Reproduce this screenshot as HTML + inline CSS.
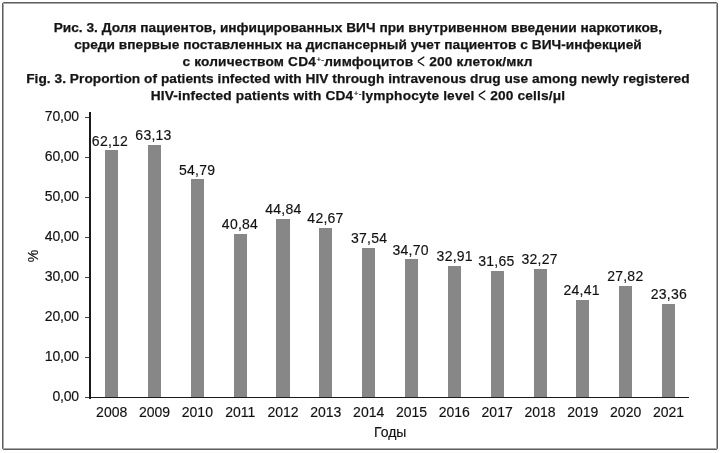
<!DOCTYPE html>
<html><head><meta charset="utf-8"><style>
*{margin:0;padding:0;box-sizing:border-box}
html,body{width:720px;height:453px;background:#fff;overflow:hidden}
body{position:relative;font-family:"Liberation Sans",sans-serif;color:#1a1a1a}
#w{position:absolute;left:0;top:0;width:720px;height:453px;will-change:transform}
.frame{position:absolute;left:2px;top:2px;width:716px;height:448px;border:1px solid #5e5e5e;box-shadow:inset 0 0 0 1px #a8a8a8;border-radius:2px}
.t{position:absolute;left:0;width:720px;text-align:center;font-weight:bold;font-size:13.7px;line-height:13.7px;white-space:nowrap;color:#141414;-webkit-text-stroke:0.25px #141414}
.t sup{font-size:8px;font-weight:normal;line-height:0;vertical-align:baseline;position:relative;top:-4.2px;letter-spacing:0.2px;margin:0 0 0 0.4px;-webkit-text-stroke:0.2px #141414}
.t .lt{font-weight:normal;font-size:20px;line-height:0;display:inline-block;vertical-align:baseline;position:relative;top:2.2px;transform:scaleX(0.68);margin:0 -2px;-webkit-text-stroke:0}
.l{position:absolute;width:80px;text-align:center;letter-spacing:0.25px;font-size:14px;line-height:14px;white-space:nowrap;color:#111;-webkit-text-stroke:0.15px #111}
.y{position:absolute;width:60px;text-align:right;letter-spacing:-0.2px;font-size:14px;line-height:14px;white-space:nowrap;color:#111;-webkit-text-stroke:0.15px #111}
.b{position:absolute;background:#878787}
.k{position:absolute;background:#1a1a1a}
.tk{position:absolute;left:85px;width:4px;height:1px;background:#444}
</style></head><body><div id="w">
<div class="frame"></div>

<div class="t" style="top:21px;left:-2.2px;letter-spacing:0.015px">Рис. 3. Доля пациентов, инфицированных ВИЧ при внутривенном введении наркотиков,</div>
<div class="t" style="top:38px;left:-2.0px;letter-spacing:0.027px">среди впервые поставленных на диспансерный учет пациентов с ВИЧ-инфекцией</div>
<div class="t" style="top:55px;left:-2.5px;letter-spacing:0.178px">с количеством CD4<sup>+-</sup>лимфоцитов <span class=lt>&lt;</span> 200 клеток/мкл</div>
<div class="t" style="top:72px;left:-2.1px;letter-spacing:0.041px">Fig. 3. Proportion of patients infected with HIV through intravenous drug use among newly registered</div>
<div class="t" style="top:89px;left:-2.0px;letter-spacing:0.161px">HIV-infected patients with CD4<sup>+-</sup>lymphocyte level <span class=lt>&lt;</span> 200 cells/μl</div>
<div class="b" style="left:105.10px;top:150.06px;width:13.1px;height:246.94px"></div>
<div class="l" style="left:70.00px;top:134px">62,12</div>
<div class="l" style="left:71.70px;top:405px;letter-spacing:0">2008</div>
<div class="b" style="left:147.94px;top:145.00px;width:13.1px;height:252.00px"></div>
<div class="l" style="left:113.50px;top:128px">63,13</div>
<div class="l" style="left:114.53px;top:405px;letter-spacing:0">2009</div>
<div class="b" style="left:190.78px;top:179.20px;width:13.1px;height:217.80px"></div>
<div class="l" style="left:157.10px;top:163px">54,79</div>
<div class="l" style="left:157.36px;top:405px;letter-spacing:0">2010</div>
<div class="b" style="left:233.62px;top:234.00px;width:13.1px;height:163.00px"></div>
<div class="l" style="left:200.00px;top:217px">40,84</div>
<div class="l" style="left:200.19px;top:405px;letter-spacing:0">2011</div>
<div class="b" style="left:276.46px;top:218.90px;width:13.1px;height:178.10px"></div>
<div class="l" style="left:243.40px;top:202px">44,84</div>
<div class="l" style="left:243.02px;top:405px;letter-spacing:0">2012</div>
<div class="b" style="left:319.30px;top:227.80px;width:13.1px;height:169.20px"></div>
<div class="l" style="left:285.50px;top:211px">42,67</div>
<div class="l" style="left:285.85px;top:405px;letter-spacing:0">2013</div>
<div class="b" style="left:362.14px;top:248.00px;width:13.1px;height:149.00px"></div>
<div class="l" style="left:329.10px;top:231px">37,54</div>
<div class="l" style="left:328.68px;top:405px;letter-spacing:0">2014</div>
<div class="b" style="left:404.98px;top:259.30px;width:13.1px;height:137.70px"></div>
<div class="l" style="left:370.60px;top:243px">34,70</div>
<div class="l" style="left:371.51px;top:405px;letter-spacing:0">2015</div>
<div class="b" style="left:447.82px;top:266.00px;width:13.1px;height:131.00px"></div>
<div class="l" style="left:414.75px;top:249px">32,91</div>
<div class="l" style="left:414.34px;top:405px;letter-spacing:0">2016</div>
<div class="b" style="left:490.66px;top:271.00px;width:13.1px;height:126.00px"></div>
<div class="l" style="left:456.40px;top:254px">31,65</div>
<div class="l" style="left:457.17px;top:405px;letter-spacing:0">2017</div>
<div class="b" style="left:533.50px;top:268.50px;width:13.1px;height:128.50px"></div>
<div class="l" style="left:499.60px;top:252px">32,27</div>
<div class="l" style="left:500.00px;top:405px;letter-spacing:0">2018</div>
<div class="b" style="left:576.34px;top:300.00px;width:13.1px;height:97.00px"></div>
<div class="l" style="left:541.60px;top:283px">24,41</div>
<div class="l" style="left:542.83px;top:405px;letter-spacing:0">2019</div>
<div class="b" style="left:619.18px;top:286.20px;width:13.1px;height:110.80px"></div>
<div class="l" style="left:585.30px;top:269px">27,82</div>
<div class="l" style="left:585.66px;top:405px;letter-spacing:0">2020</div>
<div class="b" style="left:662.02px;top:304.00px;width:13.1px;height:93.00px"></div>
<div class="l" style="left:628.90px;top:287px">23,36</div>
<div class="l" style="left:628.49px;top:405px;letter-spacing:0">2021</div>
<div class="k" style="left:89px;top:112px;width:2px;height:286.5px"></div>
<div class="k" style="left:89px;top:396.5px;width:600.3px;height:1.7px"></div>
<div class="tk" style="top:397.0px"></div>
<div class="y" style="left:18.9px;top:389px">0,00</div>
<div class="tk" style="top:357.0px"></div>
<div class="y" style="left:18.9px;top:349px">10,00</div>
<div class="tk" style="top:317.0px"></div>
<div class="y" style="left:18.9px;top:309px">20,00</div>
<div class="tk" style="top:277.0px"></div>
<div class="y" style="left:18.9px;top:269px">30,00</div>
<div class="tk" style="top:237.0px"></div>
<div class="y" style="left:18.9px;top:229px">40,00</div>
<div class="tk" style="top:197.0px"></div>
<div class="y" style="left:18.9px;top:189px">50,00</div>
<div class="tk" style="top:157.0px"></div>
<div class="y" style="left:18.9px;top:149px">60,00</div>
<div class="tk" style="top:117.0px"></div>
<div class="y" style="left:18.9px;top:109px">70,00</div>
<div class="l" style="left:350.25px;top:425px;letter-spacing:0">Годы</div>
<div class="l" style="left:-7.5px;top:248.5px;transform:rotate(-90deg);letter-spacing:0">%</div>
</div></body></html>
